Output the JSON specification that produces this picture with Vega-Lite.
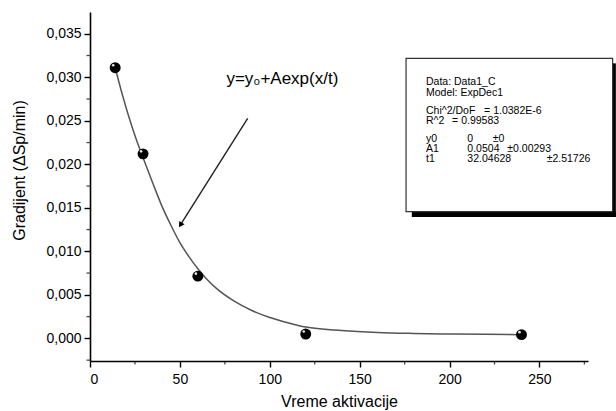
{
  "$schema": "https://vega.github.io/schema/vega-lite/v6.json",
  "autosize": "none",
  "width": 498,
  "height": 349,
  "padding": {"left": 90, "top": 12, "right": 28, "bottom": 50},
  "background": "white",
  "config": {
    "view": {"stroke": null},
    "font": "Liberation Sans",
    "axis": {
      "grid": false,
      "domainColor": "black",
      "domainWidth": 1.6,
      "tickColor": "black",
      "tickWidth": 1.4,
      "tickSize": 6,
      "labelColor": "black",
      "labelFont": "Liberation Sans",
      "labelFontSize": 14,
      "titleFont": "Liberation Sans",
      "titleFontWeight": "normal",
      "titleColor": "black",
      "titleFontSize": 16
    }
  },
  "datasets": {
    "pts": [
      {"x": 14, "y": 0.0311},
      {"x": 29.5, "y": 0.0212},
      {"x": 60, "y": 0.00715},
      {"x": 120, "y": 0.0005},
      {"x": 240, "y": 0.00043}
    ],
    "curve": [
      {"x": 14, "y": 0.0311},
      {"x": 18, "y": 0.0280},
      {"x": 22, "y": 0.0252},
      {"x": 26, "y": 0.0227},
      {"x": 30, "y": 0.0205},
      {"x": 35, "y": 0.0178},
      {"x": 40, "y": 0.0152},
      {"x": 45, "y": 0.0130},
      {"x": 50, "y": 0.0110},
      {"x": 55, "y": 0.0094},
      {"x": 60, "y": 0.0080},
      {"x": 65, "y": 0.0068},
      {"x": 70, "y": 0.0058},
      {"x": 80, "y": 0.0043},
      {"x": 90, "y": 0.0032},
      {"x": 100, "y": 0.0024},
      {"x": 110, "y": 0.0018},
      {"x": 120, "y": 0.0013},
      {"x": 140, "y": 0.0009},
      {"x": 160, "y": 0.00068},
      {"x": 180, "y": 0.00057},
      {"x": 200, "y": 0.0005},
      {"x": 220, "y": 0.00046},
      {"x": 240, "y": 0.00043}
    ],
    "arrow": [{"x": 87.7, "y": 0.02529, "x2": 50.3, "y2": 0.01303}],
    "arrowhead": [{"x": 50.3, "y": 0.01303}],
    "formula": [{"x": 107, "y": 0.0298, "text": "y=y₀+Aexp(x/t)"}],
    "shadow": [{"x": 179, "x2": 292.5, "y": 0.01456, "y2": 0.01395}, {"x": 290.7, "x2": 292.5, "y": 0.0316, "y2": 0.01395}],
    "box": [{"x": 175.8, "x2": 290.7, "y": 0.03218, "y2": 0.01456}],
    "boxtext": [
      {"x": 186.9, "y": 0.02950, "text": "Data: Data1_C"},
      {"x": 186.9, "y": 0.02823, "text": "Model: ExpDec1"},
      {"x": 186.9, "y": 0.02613, "text": "Chi^2/DoF"},
      {"x": 219.2, "y": 0.02613, "text": "= 1.0382E-6"},
      {"x": 186.9, "y": 0.02498, "text": "R^2"},
      {"x": 201.4, "y": 0.02498, "text": "= 0.99583"},
      {"x": 186.9, "y": 0.02288, "text": "y0"},
      {"x": 209.9, "y": 0.02288, "text": "0"},
      {"x": 224, "y": 0.02288, "text": "±0"},
      {"x": 186.9, "y": 0.02173, "text": "A1"},
      {"x": 209.9, "y": 0.02173, "text": "0.0504"},
      {"x": 232.1, "y": 0.02173, "text": "±0.00293"},
      {"x": 186.9, "y": 0.02058, "text": "t1"},
      {"x": 209.9, "y": 0.02058, "text": "32.04628"},
      {"x": 254, "y": 0.02058, "text": "±2.51726"}
    ],
    "yminor": [
      {"x": 0, "y": -0.0025}, {"x": 0, "y": 0.0025}, {"x": 0, "y": 0.0075}, {"x": 0, "y": 0.0125},
      {"x": 0, "y": 0.0175}, {"x": 0, "y": 0.0225}, {"x": 0, "y": 0.0275}, {"x": 0, "y": 0.0325}
    ],
    "xminor": [
      {"x": 25, "y": -0.0026}, {"x": 75, "y": -0.0026}, {"x": 125, "y": -0.0026},
      {"x": 175, "y": -0.0026}, {"x": 225, "y": -0.0026}, {"x": 275, "y": -0.0026}
    ]
  },
  "layer": [
    {
      "data": {"name": "curve"},
      "mark": {"type": "line", "color": "#555555", "strokeWidth": 1.5, "interpolate": "monotone"},
      "encoding": {
        "x": {"field": "x", "type": "quantitative",
              "scale": {"domain": [0, 277], "nice": false, "zero": false},
              "axis": {"values": [0, 50, 100, 150, 200, 250], "title": "Vreme aktivacije", "titlePadding": 7, "labelPadding": 5, "labelFontSize": 14}},
        "y": {"field": "y", "type": "quantitative",
              "scale": {"domain": [-0.0026, 0.0375], "nice": false, "zero": false},
              "axis": {"values": [0, 0.005, 0.01, 0.015, 0.02, 0.025, 0.03, 0.035],
                       "labelExpr": "replace(format(datum.value, '.3f'), '.', ',')",
                       "title": "Gradijent (ΔSp/min)", "titlePadding": 18, "labelPadding": 3, "titleY": 158}}
      }
    },
    {
      "data": {"name": "yminor"},
      "mark": {"type": "tick", "orient": "horizontal", "color": "black", "size": 3.5, "thickness": 1.3, "xOffset": -1.8},
      "encoding": {"x": {"field": "x", "type": "quantitative"}, "y": {"field": "y", "type": "quantitative"}}
    },
    {
      "data": {"name": "xminor"},
      "mark": {"type": "tick", "orient": "vertical", "color": "black", "size": 3.5, "thickness": 1.3, "yOffset": 1.8},
      "encoding": {"x": {"field": "x", "type": "quantitative"}, "y": {"field": "y", "type": "quantitative"}}
    },
    {
      "data": {"name": "pts"},
      "mark": {"type": "point", "filled": true, "color": "black", "size": 120, "opacity": 1},
      "encoding": {"x": {"field": "x", "type": "quantitative"}, "y": {"field": "y", "type": "quantitative"}}
    },
    {
      "data": {"name": "pts"},
      "mark": {"type": "point", "filled": true, "color": "white", "size": 7, "opacity": 0.9, "xOffset": -2, "yOffset": -2.5},
      "encoding": {"x": {"field": "x", "type": "quantitative"}, "y": {"field": "y", "type": "quantitative"}}
    },
    {
      "data": {"name": "arrow"},
      "mark": {"type": "rule", "color": "#222222", "strokeWidth": 1.4},
      "encoding": {"x": {"field": "x", "type": "quantitative"}, "y": {"field": "y", "type": "quantitative"},
                   "x2": {"field": "x2"}, "y2": {"field": "y2"}}
    },
    {
      "data": {"name": "arrowhead"},
      "mark": {"type": "point", "shape": "triangle-up", "filled": true, "color": "black", "size": 40, "angle": 212, "opacity": 1},
      "encoding": {"x": {"field": "x", "type": "quantitative"}, "y": {"field": "y", "type": "quantitative"}}
    },
    {
      "data": {"name": "formula"},
      "mark": {"type": "text", "fontSize": 17, "align": "center", "baseline": "middle", "color": "black", "font": "Liberation Sans"},
      "encoding": {"x": {"field": "x", "type": "quantitative"}, "y": {"field": "y", "type": "quantitative"}, "text": {"field": "text"}}
    },
    {
      "data": {"name": "shadow"},
      "mark": {"type": "rect", "color": "black"},
      "encoding": {"x": {"field": "x", "type": "quantitative"}, "y": {"field": "y", "type": "quantitative"},
                   "x2": {"field": "x2"}, "y2": {"field": "y2"}}
    },
    {
      "data": {"name": "box"},
      "mark": {"type": "rect", "fill": "white", "stroke": "#333333", "strokeWidth": 1.2},
      "encoding": {"x": {"field": "x", "type": "quantitative"}, "y": {"field": "y", "type": "quantitative"},
                   "x2": {"field": "x2"}, "y2": {"field": "y2"}}
    },
    {
      "data": {"name": "boxtext"},
      "mark": {"type": "text", "fontSize": 10.5, "align": "left", "baseline": "middle", "color": "black", "font": "Liberation Sans"},
      "encoding": {"x": {"field": "x", "type": "quantitative"}, "y": {"field": "y", "type": "quantitative"}, "text": {"field": "text"}}
    }
  ]
}
